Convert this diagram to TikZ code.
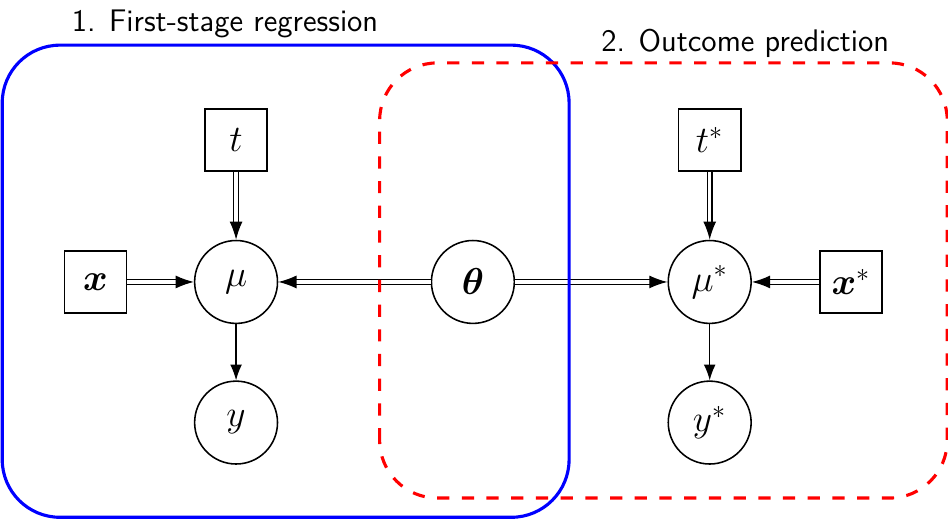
\documentclass[tikz,border=0pt]{standalone}
\usepackage{amsmath,amssymb,bm}
\usetikzlibrary{positioning,arrows.meta,calc}
\tikzset{
  latent/.style={circle,draw,line width=0.6pt,minimum size=11.2mm,inner sep=0pt,font=\Large},
  given/.style={rectangle,draw,line width=0.6pt,minimum size=8.4mm,inner sep=0pt,font=\Large},
  dedge/.style={double,double distance=1.3pt,line width=0.5pt,-{Latex[length=7pt,width=5pt]}},
  edge/.style={-{Latex[length=6pt,width=4.5pt]},line width=0.5pt},
  plate/.style={rounded corners=0.78cm,line width=1.2pt},
  ptitle/.style={font=\sffamily\large},
}

\begin{document}
\begin{tikzpicture}[x=1cm,y=1cm]
  \useasboundingbox (-6.39,-3.20) rectangle (6.42,3.81);
  % stage 1
  \node[latent] (mu) at (-3.2,0) {$\mu$};
  \node[given] (t) at (-3.2,1.92) {$t$};
  \node[given] (x) at (-5.1,0) {$\boldsymbol{x}$};
  \node[latent] (y) at (-3.2,-1.9) {$y$};
  % shared parameters
  \node[latent] (theta) at (0,0) {$\boldsymbol{\theta}$};
  % stage 2
  \node[latent] (mus) at (3.2,0) {$\mu^*$};
  \node[given] (ts) at (3.2,1.92) {$t^*$};
  \node[given] (xs) at (5.11,0) {$\boldsymbol{x}^*$};
  \node[latent] (ys) at (3.2,-1.9) {$y^*$};

  \draw[dedge] (t) -- (mu);
  \draw[dedge] (x) -- (mu);
  \draw[dedge] (theta) -- (mu);
  \draw[edge] (mu) -- (y);
  \draw[dedge] (theta) -- (mus);
  \draw[dedge] (ts) -- (mus);
  \draw[dedge] (xs) -- (mus);
  \draw[edge] (mus) -- (ys);

  % plates
  \draw[plate,blue] (-6.36,-3.18) rectangle (1.30,3.20);
  \draw[plate,red,dash pattern=on 4.7pt off 4.8pt] (-1.26,-2.92) rectangle (6.41,2.96);
  \node[ptitle] (lab1) at (-3.35,3.49) {1. First-stage regression};
  \node[ptitle] (lab2) at (3.68,3.23) {2. Outcome prediction};
\end{tikzpicture}
\end{document}
